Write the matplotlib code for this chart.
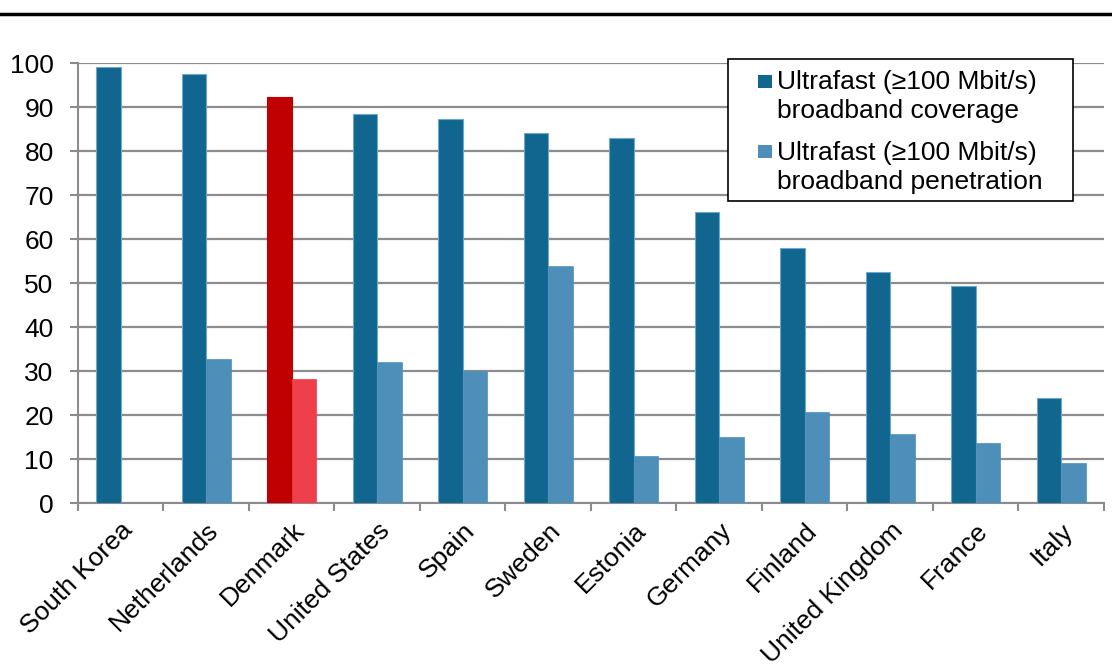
import matplotlib
matplotlib.use("Agg")
import matplotlib.pyplot as plt
import numpy as np
from matplotlib.lines import Line2D
from matplotlib.patches import Rectangle
from matplotlib.path import Path
from matplotlib.markers import MarkerStyle

plt.rcParams['font.family'] = ['Liberation Sans', 'DejaVu Sans']

countries = ["South Korea", "Netherlands", "Denmark", "United States", "Spain", "Sweden",
             "Estonia", "Germany", "Finland", "United Kingdom", "France", "Italy"]
coverage = [99.1, 97.4, 92.3, 88.5, 87.3, 84.1, 82.9, 66.2, 58.0, 52.4, 49.3, 23.8]
penetration = [np.nan, 32.8, 28.3, 32.1, 30.0, 53.9, 10.7, 15.1, 20.8, 15.8, 13.7, 9.0]
highlight = "Denmark"
legend_labels = ["Ultrafast (\u2265100 Mbit/s)\nbroadband coverage",
                 "Ultrafast (\u2265100 Mbit/s)\nbroadband penetration"]

c_dark = "#10668F"
c_light = "#4E8FBA"
c_red = "#C00000"
c_red_light = "#EE3F4A"

FS = 19

fig = plt.figure(figsize=(11.12, 6.66), dpi=100)
ax = fig.add_axes([0.0701, 0.2447, 0.9227, 0.6607])

x = np.arange(len(countries))
w = 0.285
cols1 = [c_red if c == highlight else c_dark for c in countries]
cols2 = [c_red_light if c == highlight else c_light for c in countries]
edges1 = [c_red if c == highlight else "#6FA7C9" for c in countries]
ax.bar(x - w / 2, coverage, w, color=cols1, edgecolor=edges1, linewidth=0.8, zorder=3)
ax.bar(x + w / 2, penetration, w, color=cols2, edgecolor=cols2, linewidth=0.5, zorder=3)

ax.set_xlim(-0.5, len(countries) - 0.5)
ax.set_ylim(0, 100)
ax.set_yticks(range(0, 101, 10))
ax.yaxis.grid(True, color="#8C8C8C", linewidth=1.6, zorder=0)
ax.set_axisbelow(True)

ax.set_xticks(x)
ax.set_xticklabels(countries, rotation=45, ha="right", rotation_mode="anchor", fontsize=FS)
for lab in ax.get_xticklabels():
    lab.set_x(lab.get_position()[0])
ax.set_xticks(np.arange(-0.5, len(countries), 1), minor=True)
ax.tick_params(axis="x", which="major", length=0, pad=11)
ax.tick_params(axis="x", which="minor", length=6, width=1.5, color="#8C8C8C", direction="out")
ax.tick_params(axis="y", length=6, width=1.5, color="#8C8C8C", labelsize=FS, pad=11.5)

for s in ["top", "right"]:
    ax.spines[s].set_visible(False)
for s in ["left", "bottom"]:
    ax.spines[s].set_color("#8C8C8C")
    ax.spines[s].set_linewidth(1.5)

# legend frame drawn separately (axes fraction coordinates)
ax.add_patch(Rectangle((0.6335, 0.6864), 0.3363, 0.3226, transform=ax.transAxes,
                       facecolor="white", edgecolor="black", linewidth=1.2,
                       clip_on=False, zorder=5))

# square marker shifted up so it sits beside the first line of each label
c = 1.154
sq = Path([(-0.5, c - 0.5), (0.5, c - 0.5), (0.5, c + 0.5), (-0.5, c + 0.5), (-0.5, c - 0.5)],
          [Path.MOVETO, Path.LINETO, Path.LINETO, Path.LINETO, Path.CLOSEPOLY])
mk = MarkerStyle(sq)
handles = [Line2D([], [], linestyle="none", marker=mk, markersize=31, color=c_dark, markeredgewidth=0),
           Line2D([], [], linestyle="none", marker=mk, markersize=31, color=c_light, markeredgewidth=0)]
leg = ax.legend(handles, legend_labels, loc="upper left", bbox_to_anchor=(0.6618, 0.984),
                borderaxespad=0, fontsize=FS, frameon=False,
                handlelength=0.6, handletextpad=0.15, labelspacing=0.69,
                borderpad=0)
leg.set_zorder(6)
for t in leg.get_texts():
    t.set_linespacing(1.245)

fig.add_artist(Line2D([0, 1], [0.979, 0.979], transform=fig.transFigure, color="black", linewidth=2.5))

fig.savefig("out.png", dpi=100)
